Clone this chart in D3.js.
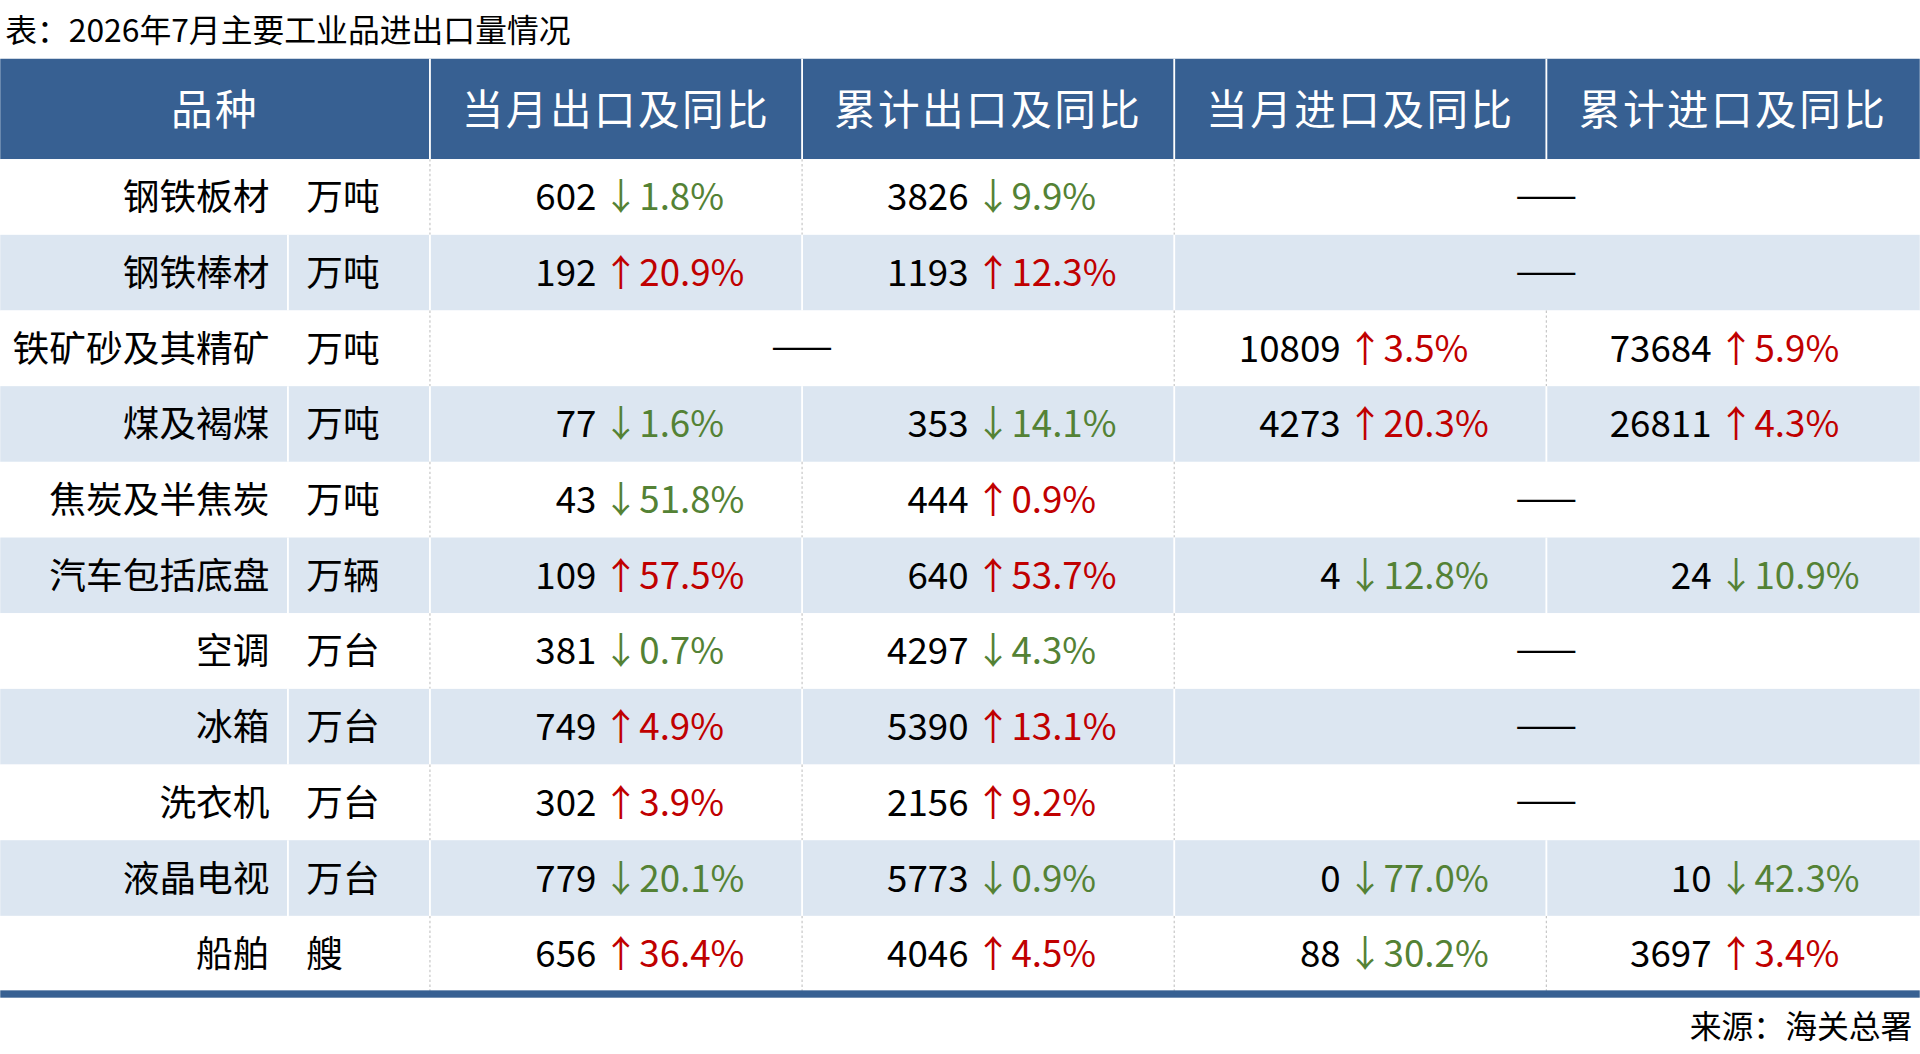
<!DOCTYPE html>
<html><head><meta charset="utf-8">
<script src="https://cdn.jsdelivr.net/npm/d3@7"></script>
<style>html,body{margin:0;padding:0;background:#fff;}svg{display:block;font-family:"Noto Sans CJK SC","Noto Sans",sans-serif;}</style>
</head><body>
<svg id="chart" width="1920" height="1054" viewBox="0 0 1568 861"></svg>
<script>
const title = "表：2026年7月主要工业品进出口量情况";
const source = "来源：海关总署";
const headers = ["品种", "当月出口及同比", "累计出口及同比", "当月进口及同比", "累计进口及同比"];
const names = ["钢铁板材", "钢铁棒材", "铁矿砂及其精矿", "煤及褐煤", "焦炭及半焦炭", "汽车包括底盘", "空调", "冰箱", "洗衣机", "液晶电视", "船舶"];
const units = ["万吨", "万吨", "万吨", "万吨", "万吨", "万辆", "万台", "万台", "万台", "万台", "艘"];
// [value, yoy %]; null = no data
const monthExport = [[602, -1.8], [192, 20.9], null, [77, -1.6], [43, -51.8], [109, 57.5], [381, -0.7], [749, 4.9], [302, 3.9], [779, -20.1], [656, 36.4]];
const cumExport = [[3826, -9.9], [1193, 12.3], null, [353, -14.1], [444, 0.9], [640, 53.7], [4297, -4.3], [5390, 13.1], [2156, 9.2], [5773, -0.9], [4046, 4.5]];
const monthImport = [null, null, [10809, 3.5], [4273, 20.3], null, [4, -12.8], null, null, null, [0, -77.0], [88, -30.2]];
const cumImport = [null, null, [73684, 5.9], [26811, 4.3], null, [24, -10.9], null, null, null, [10, -42.3], [3697, 3.4]];

const W = 1568;
const colEdges = [0, 351, 655, 959, 1263, 1568];
const numRight = [487, 791, 1095, 1398];
const blue = "#376092", stripe = "#dce6f1", green = "#548235", red = "#c00000";
const series = [monthExport, cumExport, monthImport, cumImport];

const svg = d3.select("#chart");
const y = d3.scaleBand().domain(d3.range(names.length)).range([130, 810]);

svg.append("text").attr("x", 4).attr("y", 34).attr("font-size", 26).attr("fill", "#000").text(title);

svg.append("rect").attr("x", 0).attr("y", 48).attr("width", W).attr("height", 82).attr("fill", blue);
headers.forEach((h, i) => {
    svg.append("text").attr("x", (colEdges[i] + colEdges[i + 1]) / 2).attr("y", 102)
        .attr("text-anchor", "middle").attr("font-size", 34).attr("fill", "#fff")
        .attr("letter-spacing", 2).text(h);
    if (i > 0) svg.append("line").attr("x1", colEdges[i]).attr("x2", colEdges[i]).attr("y1", 48).attr("y2", 130)
        .attr("stroke", "#fff").attr("stroke-width", 1.5);
});

// row backgrounds and separators
names.forEach((n, r) => {
    const y0 = y(r), h = y.bandwidth();
    const striped = r % 2 === 1;
    svg.append("rect").attr("x", 0).attr("y", y0).attr("width", W).attr("height", h)
        .attr("fill", striped ? stripe : "#fff");
    const sepColor = striped ? "#fff" : "#c8c8c8";
    const seps = [351, 655, 959, 1263];
    if (striped) seps.unshift(235);
    seps.forEach(x => {
        if (r === 2 && x === 655) return;
        if ((x === 1263) && !monthImport[r]) return;
        svg.append("line").attr("x1", x).attr("x2", x).attr("y1", y0).attr("y2", y0 + h)
            .attr("stroke", sepColor).attr("stroke-width", striped ? 1.5 : 1)
            .attr("stroke-dasharray", striped ? null : "2,2");
    });
});

const body = svg.append("g").attr("font-size", 30);
names.forEach((n, r) => {
    const cy = y(r) + y.bandwidth() / 2 + 11;
    body.append("text").attr("x", 220).attr("y", cy).attr("text-anchor", "end").text(n);
    body.append("text").attr("x", 250).attr("y", cy).text(units[r]);
    series.forEach((s, c) => {
        const d = s[r];
        if (!d) return;
        const up = d[1] >= 0;
        body.append("text").attr("x", numRight[c]).attr("y", cy).attr("text-anchor", "end").text(d[0]);
        body.append("text").attr("x", numRight[c] + 5).attr("y", cy)
            .attr("fill", up ? red : green)
            .text((up ? "↑" : "↓") + Math.abs(d[1]).toFixed(1) + "%");
    });
    if (!monthExport[r]) body.append("text").attr("x", 655).attr("y", cy - 2).attr("text-anchor", "middle").text("——");
    if (!monthImport[r]) body.append("text").attr("x", 1263).attr("y", cy - 2).attr("text-anchor", "middle").text("——");
});

svg.append("rect").attr("x", 0).attr("y", 809).attr("width", W).attr("height", 6).attr("fill", blue);
svg.append("text").attr("x", 1562).attr("y", 848).attr("text-anchor", "end").attr("font-size", 26).text(source);
</script>
</body></html>
